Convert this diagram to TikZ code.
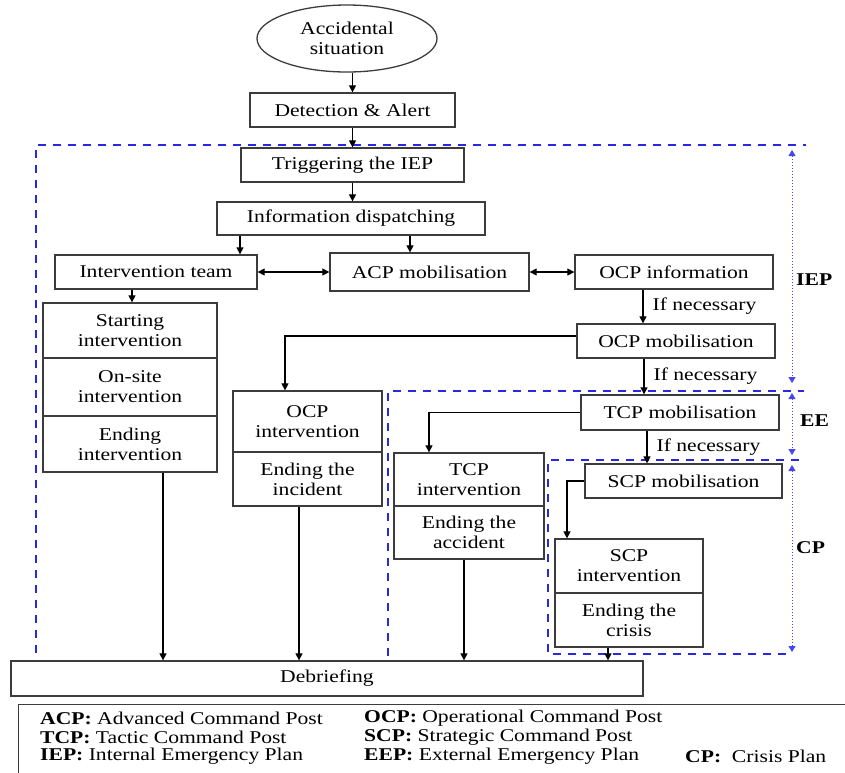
\documentclass[tikz,border=0pt]{standalone}
\usepackage{fontspec}
\setmainfont{Liberation Serif}[FakeStretch=1.2]
\usetikzlibrary{arrows.meta,shapes.geometric}
\definecolor{frameblue}{RGB}{40,40,225}
\definecolor{dotblue}{RGB}{70,70,235}
\definecolor{boxgray}{RGB}{60,60,60}
\begin{document}
\begin{tikzpicture}[x=1pt,y=-1pt,
  font=\fontsize{18}{20}\selectfont,
  bx/.style={draw=boxgray, line width=1.3pt, rectangle, inner sep=0pt, align=center},
  arr/.style={line width=1.2pt, -{Triangle[length=7pt,width=7pt]}},
  arrboth/.style={line width=1.2pt, {Triangle[length=7pt,width=7pt]}-{Triangle[length=7pt,width=7pt]}},
  bluefr/.style={draw=frameblue, line width=1.8pt, dash pattern=on 8pt off 7pt},
  spanarr/.style={draw=dotblue, line width=1pt, dotted, {Triangle[length=6pt,width=7pt]}-{Triangle[length=6pt,width=7pt]}},
  lab/.style={anchor=west, xshift=9pt, inner sep=0pt},
  sidelab/.style={anchor=west, inner sep=0pt, font=\fontsize{18}{20}\selectfont\bfseries},
  legtxt/.style={anchor=west, inner sep=0pt}
]
\useasboundingbox (0,0) rectangle (845,772);
\clip (0,0) rectangle (845,772);

% frames
\draw[bluefr] (36,653) -- (36,145) -- (806,145);
\draw[bluefr] (388,656) -- (388,391) -- (804,391);
\draw[bluefr] (799,460) -- (548,460) -- (548,654) -- (792,654);

% span arrows
\coordinate (sa1) at (792,150); \coordinate (sa2) at (792,383);
\coordinate (sb1) at (792,393); \coordinate (sb2) at (792,455);
\coordinate (sc1) at (792,465); \coordinate (sc2) at (792,652);
\draw[spanarr] (sa1) -- (sa2);
\draw[spanarr] (sb1) -- (sb2);
\draw[spanarr] (sc1) -- (sc2);
\node[sidelab] (iep) at (796,280) {IEP};
\node[sidelab] (ee) at (800,421) {EE};
\node[sidelab] (cp) at (796,548) {CP};

% nodes
\node[bx, ellipse, minimum width=180pt, minimum height=67pt] (acc) at (347,38.5) {Accidental\\situation};
\node[bx, minimum width=205pt, minimum height=34pt] (det) at (352.5,110) {Detection \& Alert};
\node[bx, minimum width=223pt, minimum height=34pt] (trig) at (352.5,165) {Triggering the IEP};
\node[bx, minimum width=268pt, minimum height=33pt] (info) at (351,218.5) {Information dispatching};
\node[bx, minimum width=202pt, minimum height=34pt] (team) at (156,272) {Intervention team};
\node[bx, minimum width=199pt, minimum height=38pt] (acp) at (429.5,272) {ACP mobilisation};
\node[bx, minimum width=198pt, minimum height=34pt] (ocpinfo) at (674,272) {OCP information};
\node[bx, minimum width=174pt, minimum height=55pt] (start) at (130,330.5) {Starting\\intervention};
\node[bx, minimum width=174pt, minimum height=58pt] (onsite) at (130,387) {On-site\\intervention};
\node[bx, minimum width=174pt, minimum height=56pt] (endint) at (130,444) {Ending\\intervention};
\node[bx, minimum width=198pt, minimum height=34pt] (ocpmob) at (676,341) {OCP mobilisation};
\node[bx, minimum width=149pt, minimum height=61pt] (ocpint) at (307.5,421.5) {OCP\\intervention};
\node[bx, minimum width=149pt, minimum height=54pt] (ocpend) at (307.5,479) {Ending the\\incident};
\node[bx, minimum width=198pt, minimum height=35pt] (tcpmob) at (680,412.5) {TCP mobilisation};
\node[bx, minimum width=150pt, minimum height=53pt] (tcpint) at (469,479.5) {TCP\\intervention};
\node[bx, minimum width=150pt, minimum height=53pt] (tcpend) at (469,532.5) {Ending the\\accident};
\node[bx, minimum width=197pt, minimum height=34pt] (scpmob) at (683.5,481) {SCP mobilisation};
\node[bx, minimum width=148pt, minimum height=54pt] (scpint) at (629,566) {SCP\\intervention};
\node[bx, minimum width=148pt, minimum height=54pt] (scpend) at (629,620) {Ending the\\crisis};
\node[bx, minimum width=632pt, minimum height=35pt] (deb) at (327,678.5) {Debriefing};

% x positions of connectors
\coordinate (xa) at (240,0);
\coordinate (xb) at (410,0);
\coordinate (xc) at (132,0);
\coordinate (xd) at (643,0);
\coordinate (xe) at (285,0);
\coordinate (xf) at (644,0);
\coordinate (xg) at (429,0);
\coordinate (xh) at (647,0);
\coordinate (xi) at (567,0);
\coordinate (xj) at (163,0);
\coordinate (xk) at (299,0);
\coordinate (xl) at (464,0);
\coordinate (xm) at (608,0);

% connectors
\draw[arr] (acc.south -| det.north) -- (det.north);
\draw[arr] (det.south) -- (trig.north);
\draw[arr] (trig.south) -- (trig.south |- info.north);
\draw[arr] (info.south -| xa) -- (team.north -| xa);
\draw[arr] (info.south -| xb) -- (acp.north -| xb);
\draw[arrboth] (team.east) -- (acp.west);
\draw[arrboth] (acp.east) -- (ocpinfo.west);
\draw[arr] (team.south -| xc) -- (start.north -| xc);
\draw[arr] (ocpinfo.south -| xd) -- node[lab] {If necessary} (ocpmob.north -| xd);
\draw[arr] ([yshift=5pt]ocpmob.west) -| (xe |- ocpint.north);
\draw[arr] (ocpmob.south -| xf) -- node[lab] {If necessary} (tcpmob.north -| xf);
\draw[arr] (tcpmob.west) -| (xg |- tcpint.north);
\draw[arr] (tcpmob.south -| xh) -- node[lab] {If necessary} (scpmob.north -| xh);
\draw[arr] (scpmob.west) -| (xi |- scpint.north);
\draw[arr] (endint.south -| xj) -- (deb.north -| xj);
\draw[arr] (ocpend.south -| xk) -- (deb.north -| xk);
\draw[arr] (tcpend.south -| xl) -- (deb.north -| xl);
\draw[arr] (scpend.south -| xm) -- (deb.north -| xm);

% legend
\node[draw=boxgray, line width=1.3pt, anchor=north west, minimum width=850pt, minimum height=90pt, inner sep=0pt] (legend) at (18,704) {};
\node[legtxt] (l1) at (40,718) {\textbf{ACP:} Advanced Command Post};
\node[legtxt] (l2) at (40,737) {\textbf{TCP:} Tactic Command Post};
\node[legtxt] (l3) at (40,756) {\textbf{IEP:} Internal Emergency Plan};
\node[legtxt] (l4) at (364,718) {\textbf{OCP:} Operational Command Post};
\node[legtxt] (l5) at (364,737) {\textbf{SCP:} Strategic Command Post};
\node[legtxt] (l6) at (364,756) {\textbf{EEP:} External Emergency Plan};
\node[legtxt] (l7) at (685,756) {\textbf{CP:}\ \ Crisis Plan};
\end{tikzpicture}
\end{document}
